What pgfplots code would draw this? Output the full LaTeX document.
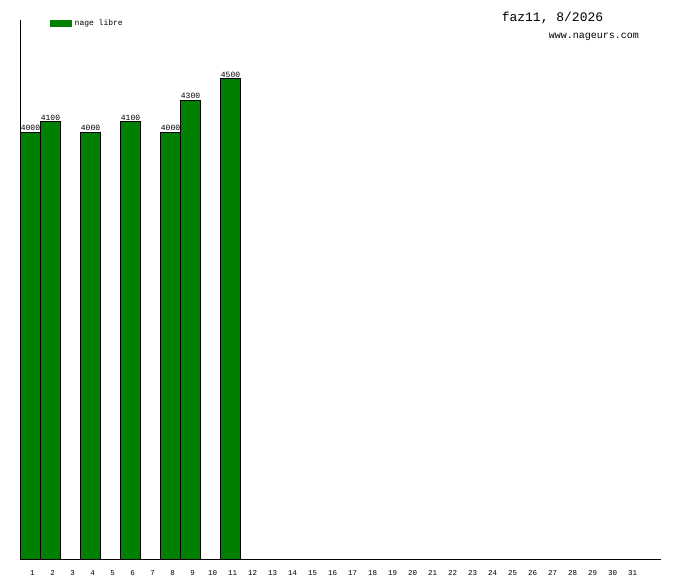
\documentclass[border=0pt]{standalone}
\usepackage{fontspec}
\setmainfont{Liberation Mono}
\usepackage{pgfplots}
\pgfplotsset{compat=1.18}
\definecolor{barg}{RGB}{0,128,0}
\begin{document}
\begin{tikzpicture}[x=1pt,y=1pt]
\useasboundingbox (0,0) rectangle (680,580);
\begin{axis}[
  at={(20.5pt,20pt)}, anchor=south west,
  scale only axis, width=640pt, height=540pt,
  xmin=0.5, xmax=32.5, ymin=0, ymax=5050,
  axis x line=bottom, axis y line=left,
  axis line style={black, line width=1pt, -},
  xtick={1,...,31}, ytick=\empty,
  major tick length=0pt,
  xticklabel style={font=\fontsize{7.5}{7.5}\selectfont, anchor=base, yshift=-16pt, xshift=2pt},
  /pgf/number format/assume math mode=true,
  /pgf/number format/set thousands separator={},
  ybar, bar width=20pt,
  nodes near coords,
  nodes near coords style={font=\fontsize{8}{8}\selectfont, anchor=base, inner sep=0pt, yshift=1.5pt,
    /pgf/number format/set thousands separator={}},
  clip=false,
  legend style={at={(axis description cs:0,1)}, anchor=north west, xshift=29pt, yshift=2pt,
    draw=none, fill=none, inner sep=0pt, font=\fontsize{8}{8}\selectfont,
    legend cell align=left, nodes={inner xsep=3pt}},
  legend image code/.code={\fill[barg] (0pt,-3pt) rectangle (21pt,3pt);},
]
\addplot[fill=barg, draw=black, line width=1pt] coordinates {
 (1,4000) (2,4100) (4,4000) (6,4100) (8,4000) (9,4300) (11,4500)
};
\addlegendentry{nage libre}
\end{axis}
\node[anchor=base, font=\fontsize{13}{13}\selectfont, inner sep=0pt] at (552.5,558) {faz11, 8/2026};
\node[anchor=base, font=\fontsize{10}{10}\selectfont, inner sep=0pt] at (594,541) {www.nageurs.com};
\end{tikzpicture}
\end{document}
